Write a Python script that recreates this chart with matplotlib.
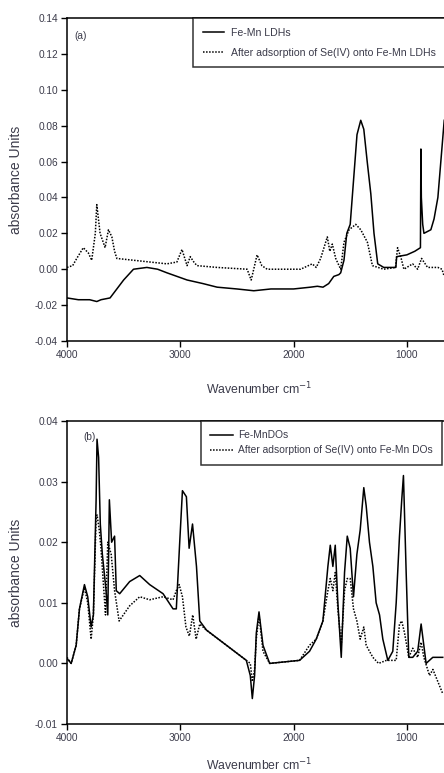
import matplotlib
matplotlib.use("Agg")
import matplotlib.pyplot as plt

plt.rcParams['font.family'] = ['Liberation Sans', 'DejaVu Sans']

# ---------------- data ----------------
ldh_wn = [4000, 3950, 3900, 3850, 3800, 3737, 3700, 3620, 3560, 3500, 3413, 3295, 3200,
          3118, 2940, 2800, 2675, 2500, 2351, 2200, 2000, 1850, 1790, 1740, 1690, 1645,
          1600, 1584, 1555, 1530, 1500, 1470, 1440, 1407, 1380, 1350, 1318, 1290, 1257,
          1204, 1150, 1097, 1090, 1000, 930, 880, 876, 872, 860, 849, 788, 760, 726, 700, 670]
ldh_abs = [-0.016, -0.0165, -0.017, -0.017, -0.017, -0.018, -0.017, -0.016, -0.011, -0.006, 0.0, 0.001, 0.0,
           -0.002, -0.006, -0.008, -0.010, -0.011, -0.012, -0.011, -0.011, -0.010, -0.0095, -0.010, -0.008, -0.004,
           -0.003, -0.002, 0.005, 0.02, 0.025, 0.05, 0.075, 0.083, 0.078, 0.060, 0.042, 0.020, 0.003,
           0.001, 0.001, 0.001, 0.007, 0.008, 0.010, 0.012, 0.067, 0.040, 0.025, 0.020, 0.022, 0.028, 0.040, 0.060, 0.083]

ldh_se_wn = [4000, 3950, 3914, 3856, 3811, 3782, 3750, 3737, 3708, 3680, 3664, 3634, 3604, 3580, 3560,
             3413, 3118, 3030, 2985, 2940, 2912, 2880, 2853, 2675, 2410, 2374, 2322, 2280, 2233,
             1938, 1835, 1800, 1761, 1702, 1680, 1658, 1628, 1584, 1555, 1510, 1451, 1407, 1348,
             1304, 1204, 1100, 1082, 1050, 1026, 949, 905, 870, 817, 726, 690, 670]
ldh_se_abs = [0.001, 0.002, 0.006, 0.012, 0.009, 0.005, 0.020, 0.036, 0.020, 0.015, 0.012, 0.022, 0.018, 0.010, 0.006,
              0.005, 0.003, 0.004, 0.011, 0.002, 0.007, 0.004, 0.002, 0.001, 0.0, -0.006, 0.008, 0.002, 0.0,
              0.0, 0.003, 0.001, 0.006, 0.018, 0.010, 0.014, 0.006, 0.0, 0.015, 0.022, 0.025, 0.022, 0.015,
              0.002, 0.0, 0.001, 0.012, 0.006, 0.0, 0.003, 0.0, 0.006, 0.001, 0.001, 0.0, -0.004]

do_wn = [4000, 3963, 3919, 3890, 3846, 3817, 3787, 3767, 3743, 3735, 3721, 3706, 3688, 3655, 3640,
         3626, 3606, 3580, 3565, 3535, 3447, 3358, 3270, 3152, 3064, 3035, 3005, 2981, 2946,
         2922, 2892, 2857, 2828, 2769, 2593, 2417, 2382, 2364, 2344, 2329, 2305, 2270, 2211,
         1947, 1859, 1800, 1741, 1697, 1676, 1653, 1632, 1609, 1579, 1550, 1526, 1500, 1471,
         1441, 1412, 1380, 1359, 1330, 1300, 1271, 1241, 1212, 1168, 1124, 1094, 1065, 1045,
         1030, 1006, 983, 948, 904, 874, 830, 771, 683]
do_abs = [0.0008, 0.0, 0.003, 0.009, 0.013, 0.011, 0.006, 0.008, 0.027, 0.037, 0.034, 0.023, 0.018, 0.012, 0.008,
          0.027, 0.020, 0.021, 0.012, 0.0115, 0.0135, 0.0145, 0.013, 0.0115, 0.009, 0.009, 0.020, 0.0285, 0.0275,
          0.019, 0.023, 0.016, 0.007, 0.0055, 0.003, 0.0005, -0.002, -0.0058, -0.002, 0.005, 0.0085, 0.003, 0.0,
          0.0005, 0.002, 0.004, 0.007, 0.016, 0.0195, 0.016, 0.0195, 0.010, 0.001, 0.015, 0.021, 0.019, 0.011,
          0.018, 0.022, 0.029, 0.026, 0.020, 0.016, 0.010, 0.008, 0.004, 0.0005, 0.002, 0.010, 0.021, 0.027,
          0.031, 0.015, 0.001, 0.001, 0.002, 0.0065, 0.0, 0.001, 0.001]

do_se_wn = [4000, 3963, 3919, 3890, 3846, 3817, 3787, 3767, 3743, 3735, 3715, 3700, 3660, 3640, 3610,
            3580, 3540, 3447, 3358, 3270, 3152, 3064, 3035, 3010, 2981, 2950, 2920, 2890, 2860,
            2828, 2770, 2593, 2417, 2382, 2364, 2344, 2329, 2305, 2270, 2211, 1947, 1859, 1800,
            1741, 1697, 1676, 1653, 1632, 1609, 1579, 1550, 1526, 1500, 1471, 1441, 1412, 1380,
            1359, 1330, 1300, 1250, 1180, 1094, 1065, 1045, 1020, 983, 948, 904, 874, 850, 800, 770, 683]
do_se_abs = [0.001, 0.0, 0.003, 0.009, 0.0125, 0.010, 0.004, 0.008, 0.024, 0.0245, 0.022, 0.019, 0.008, 0.020, 0.018,
             0.012, 0.007, 0.0095, 0.011, 0.0105, 0.011, 0.0105, 0.012, 0.013, 0.011, 0.006, 0.0045, 0.008, 0.004,
             0.0065, 0.0055, 0.003, 0.0005, 0.0, -0.003, -0.001, 0.004, 0.008, 0.002, 0.0, 0.0005, 0.003, 0.004,
             0.007, 0.012, 0.014, 0.012, 0.015, 0.009, 0.003, 0.012, 0.014, 0.014, 0.009, 0.007, 0.004, 0.006,
             0.003, 0.002, 0.001, 0.0, 0.0005, 0.0005, 0.0065, 0.007, 0.005, 0.001, 0.0025, 0.001, 0.0035, 0.001, -0.002, -0.001, -0.005]

x_ticks = [4000, 3000, 2000, 1000]
y_ticks_a = [-0.04, -0.02, 0.00, 0.02, 0.04, 0.06, 0.08, 0.10, 0.12, 0.14]
y_ticks_b = [-0.01, 0.00, 0.01, 0.02, 0.03, 0.04]

labels_a = ["Fe-Mn LDHs", "After adsorption of Se(IV) onto Fe-Mn LDHs"]
labels_b = ["Fe-MnDOs", "After adsorption of Se(IV) onto Fe-Mn DOs"]

# ---------------- figure ----------------
W, H = 444, 773
fig = plt.figure(figsize=(W / 100, H / 100), dpi=100)
txt_color = '#3b3b4a'
L = 67 / W
ax_a = fig.add_axes([L, 1 - 341 / H, 1 - L, (341 - 18) / H])
ax_b = fig.add_axes([L, 1 - 724 / H, 1 - L, (724 - 421) / H])

def style(ax, yticks, ylim, xlab_y):
    ax.set_xlim(4000, 672)
    ax.set_ylim(*ylim)
    ax.set_xticks(x_ticks)
    ax.set_xticklabels([str(t) for t in x_ticks])
    ax.set_yticks(yticks)
    ax.set_yticklabels([f"{t:.2f}" for t in yticks])
    ax.spines['right'].set_visible(False)
    for s in ['left', 'bottom', 'top']:
        ax.spines[s].set_linewidth(1.1)
    ax.tick_params(direction='out', length=4, width=1, pad=2.5, labelsize=7.3,
                   labelcolor=txt_color)
    ax.set_xlabel("Wavenumber cm$^{-1}$", fontsize=8.8, color=txt_color)
    ax.set_ylabel("absorbance Units", fontsize=10, color=txt_color)
    ax.xaxis.set_label_coords(0.51, xlab_y)
    ax.yaxis.set_label_coords(-0.117, 0.5)

style(ax_a, y_ticks_a, (-0.04, 0.14), -0.122)
style(ax_b, y_ticks_b, (-0.01, 0.04), -0.108)

ax_a.plot(ldh_wn, ldh_abs, color='black', lw=1.1, label=labels_a[0])
ax_a.plot(ldh_se_wn, ldh_se_abs, color='black', lw=1.1, ls=(0, (1, 1)), label=labels_a[1])
ax_b.plot(do_wn, do_abs, color='black', lw=1.1, label=labels_b[0])
ax_b.plot(do_se_wn, do_se_abs, color='black', lw=1.1, ls=(0, (1, 1)), label=labels_b[1])

ax_a.text(3938, 0.130, "(a)", fontsize=7.3, color=txt_color, ha='left', va='center')
ax_b.text(3859, 0.0373, "(b)", fontsize=7.3, color=txt_color, ha='left', va='center')

leg_a = ax_a.legend(loc='upper left', bbox_to_anchor=((193 - 67) / (W - 67), 1.0),
                    fontsize=7.6, frameon=True, fancybox=False, edgecolor='black',
                    handlelength=2.0, handletextpad=0.7, borderpad=0.9, labelspacing=0.95,
                    borderaxespad=0)
leg_a.get_frame().set_linewidth(1.1)
for t in leg_a.get_texts():
    t.set_color(txt_color)

leg_b = ax_b.legend(loc='upper left', bbox_to_anchor=((201 - 67) / (W - 67), 1.0),
                    fontsize=7.4, frameon=True, fancybox=False, edgecolor='black',
                    handlelength=2.2, handletextpad=0.5, borderpad=0.9, labelspacing=0.5,
                    borderaxespad=0)
leg_b.get_frame().set_linewidth(1.1)
for t in leg_b.get_texts():
    t.set_color(txt_color)

fig.savefig("out.png", dpi=100)
